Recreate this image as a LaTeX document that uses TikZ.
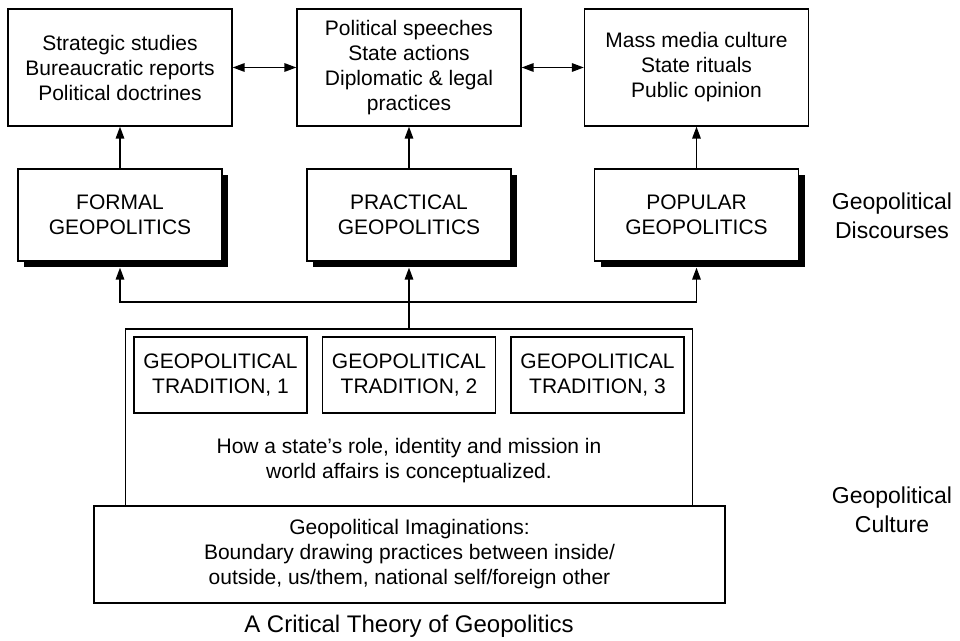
\documentclass[tikz,border=0pt]{standalone}
\usepackage{fontspec}
\setmainfont{Liberation Sans}
\usetikzlibrary{arrows.meta,shadows}

\begin{document}
\begin{tikzpicture}[x=0.5pt, y=-0.5pt, line width=0.9pt, >={Triangle[length=6pt,width=4.2pt]}]

\tikzstyle{every node} = [align=center, line width=0.6pt, font=\fontsize{10.5}{12.5}\selectfont]
\tikzstyle{txt} = [rectangle, draw, minimum width=112pt, minimum height=58.5pt]
\tikzstyle{dis} = [rectangle, draw, fill=white, minimum width=102pt, minimum height=46pt,
  drop shadow={shadow xshift=3pt, shadow yshift=-3pt, fill=black, opacity=1}]
\tikzstyle{trad} = [rectangle, draw, minimum width=86.5pt, minimum height=38pt]
\tikzstyle{side} = [font=\fontsize{11.5}{14.5}\selectfont]

\useasboundingbox (0,0) rectangle (960,641);

\node[txt] (ss) at (120,67.5) {Strategic studies\\Bureaucratic reports\\Political doctrines};
\node[txt] (ps) at (409,67.5) {Political speeches\\State actions\\Diplomatic \& legal\\practices};
\node[txt] (mm) at (696.5,67.5) {Mass media culture\\State rituals\\Public opinion};

\node[dis] (fo) at (120,215) {FORMAL\\GEOPOLITICS};
\node[dis] (pr) at (409,215) {PRACTICAL\\GEOPOLITICS};
\node[dis] (po) at (696.5,215) {POPULAR\\GEOPOLITICS};

\node[rectangle, draw, minimum width=283.5pt, minimum height=88.5pt] (cu) at (409,417.5) {};
\node[trad] (t1) at (220.5,375) {GEOPOLITICAL\\TRADITION, 1};
\node[trad] (t2) at (409,375) {GEOPOLITICAL\\TRADITION, 2};
\node[trad] (t3) at (597.5,375) {GEOPOLITICAL\\TRADITION, 3};
\node (hw) at (409,461) {How a state’s role, identity and mission in\\world affairs is conceptualized.};

\node[rectangle, draw, minimum width=315.5pt, minimum height=48.5pt] (im) at (409.5,554.5)
  {Geopolitical Imaginations:\\Boundary drawing practices between inside/\\outside, us/them, national self/foreign other};
\node[font=\fontsize{12}{14}\selectfont] (ti) at (409,626) {A Critical Theory of Geopolitics};

\node[side] (gd) at (892,216) {Geopolitical\\Discourses};
\node[side] (gc) at (892,510) {Geopolitical\\Culture};

\coordinate (hub) at (409,302);

\draw[<->] (ss) -- (ps);
\draw[<->] (ps) -- (mm);
\draw[->] (fo) -- (ss);
\draw[->] (pr) -- (ps);
\draw[->] (po) -- (mm);
\draw[->] (cu) -- ([yshift=-3pt]pr.south);
\draw[->] (hub) -| ([yshift=-3pt]fo.south);
\draw[->] (hub) -| ([yshift=-3pt]po.south);

\end{tikzpicture}
\end{document}
